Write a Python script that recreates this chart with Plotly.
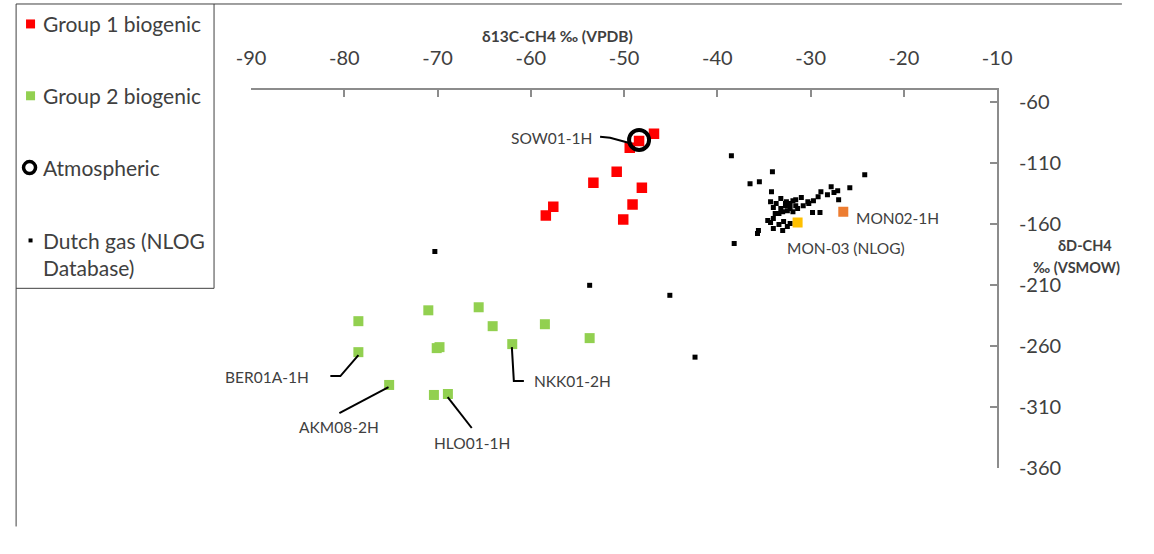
import plotly.graph_objects as go

# figure size (the page adds a default 8px body margin around it)
W, H = 1138, 538
# measured page<->figure mapping of the photograph (page = O + S * figure_px)
SX, OX = 0.971, 16.5
SY, OY = 0.980, 0.0

# ---------------- data ----------------
group1_d13c = [-46.8, -48.4, -49.4, -50.8, -53.3, -48.1, -49.1, -50.1, -57.6, -58.4]
group1_dD = [-86.1, -91.9, -97.6, -117.2, -126.2, -130.3, -144.1, -156.4, -145.8, -153.1]

group2_d13c = [-78.5, -71.0, -65.6, -64.1, -58.5, -53.7, -70.1, -69.8, -78.5, -62.0, -75.2, -70.4, -68.9]
group2_dD = [-239.7, -230.8, -228.3, -243.8, -242.2, -253.6, -261.8, -261.0, -265.1, -258.5, -292.0, -300.2, -299.4]

atm_d13c = [-48.4]
atm_dD = [-91.1]

dutch_d13c = [-38.5, -34.1, -24.2, -36.5, -35.5, -34.2, -25.8, -27.8, -27.1, -27.5,
              -28.2, -28.9, -27.0, -29.2, -29.7, -30.3, -31.0, -30.8, -30.2, -34.3,
              -33.2, -33.7, -31.9, -32.7, -32.2, -32.5, -33.2, -34.0, -33.8, -29.8,
              -29.0, -34.6, -34.0, -34.3, -33.4, -34.0, -33.0, -32.5, -32.2, -32.9,
              -35.6, -35.7, -38.2, -70.3, -53.7, -45.1, -42.4,
              -32.7, -32.2, -31.6, -33.0, -31.9, -31.4, -33.4, -32.6, -31.6]
dutch_dD = [-104.1, -117.2, -119.6, -127.0, -125.4, -133.5, -130.3, -129.4, -132.7, -134.3,
            -136.0, -133.5, -140.1, -137.6, -140.9, -141.7, -138.4, -145.0, -143.3, -141.7,
            -139.2, -143.3, -140.9, -145.0, -147.4, -149.1, -147.4, -146.6, -151.5, -150.7,
            -150.7, -157.2, -155.6, -158.9, -160.5, -163.8, -165.4, -162.1, -159.7, -158.0,
            -165.4, -167.8, -176.0, -182.5, -210.3, -218.5, -269.2,
            -143.3, -143.3, -145.0, -149.9, -149.9, -147.4, -151.5, -141.7, -140.1]

mon02_d13c, mon02_dD = [-26.5], [-149.9]
mon03_d13c, mon03_dD = [-31.4], [-158.9]

x_ticks = [-90, -80, -70, -60, -50, -40, -30, -20, -10]
x_ticktext = ["-90", "-80", "-70", "-60", "-50", "-40", "-30", "-20", "-10"]
y_ticks = [-60, -110, -160, -210, -260, -310, -360]
y_ticktext = ["-60", "-110", "-160", "-210", "-260", "-310", "-360"]

# ---------------- style ----------------
FONT = "Lato"
TXT = "#404040"
AXC = "#8c8c8c"

def px(x):
    return min(0.999, max(0.001, (x - OX) / SX / W))

def py(y):
    return min(0.999, max(0.001, 1 - (y - OY) / SY / H))

fig = go.Figure()

fig.add_trace(go.Scatter(x=dutch_d13c, y=dutch_dD, mode="markers", name="Dutch gas (NLOG Database)",
                         marker=dict(symbol="square", size=5, color="black", line=dict(width=0))))
fig.add_trace(go.Scatter(x=group2_d13c, y=group2_dD, mode="markers", name="Group 2 biogenic",
                         marker=dict(symbol="square", size=10, color="#92D050", line=dict(width=0))))
fig.add_trace(go.Scatter(x=group1_d13c, y=group1_dD, mode="markers", name="Group 1 biogenic",
                         marker=dict(symbol="square", size=10.5, color="#FF0000", line=dict(width=0))))
fig.add_trace(go.Scatter(x=mon02_d13c, y=mon02_dD, mode="markers", name="MON02-1H",
                         marker=dict(symbol="square", size=10, color="#ED7D31", line=dict(width=0))))
fig.add_trace(go.Scatter(x=mon03_d13c, y=mon03_dD, mode="markers", name="MON-03 (NLOG)",
                         marker=dict(symbol="square", size=10, color="#FFC000", line=dict(width=0))))
fig.add_trace(go.Scatter(x=atm_d13c, y=atm_dD, mode="markers", name="Atmospheric",
                         marker=dict(symbol="circle", size=20, color="rgba(0,0,0,0)",
                                     line=dict(width=4, color="black"))))

shapes = []
annotations = []

def line(p0, p1, color="#404040", width=1):
    shapes.append(dict(type="line", xref="paper", yref="paper", x0=px(p0[0]), y0=py(p0[1]),
                       x1=px(p1[0]), y1=py(p1[1]), line=dict(color=color, width=width)))

# outer chart frame (top and left edges) and legend box
line((7, 3), (1154, 3))
line((7, 3), (7, 554))
line((215, 3), (215, 288))
line((7, 288), (215, 288))

# legend symbols
def sq(cx, cy, s, color):
    shapes.append(dict(type="rect", xref="paper", yref="paper", x0=px(cx - s / 2), x1=px(cx + s / 2),
                       y0=py(cy + s / 2), y1=py(cy - s / 2), line=dict(width=0), fillcolor=color))

sq(32, 23, 9, "#FF0000")
sq(32, 95, 9, "#92D050")
sq(32, 240, 4, "black")
shapes.append(dict(type="circle", xref="paper", yref="paper", x0=px(25), x1=px(37), y0=py(173), y1=py(161),
                   line=dict(color="black", width=3.5), fillcolor="rgba(0,0,0,0)"))

def txt(x, y, s, size=20, anchor="left", bold=False):
    annotations.append(dict(xref="paper", yref="paper", x=px(x), y=py(y), text=f"<b>{s}</b>" if bold else s,
                            showarrow=False, xanchor=anchor, yanchor="middle",
                            font=dict(family=FONT, size=size, color=TXT)))

txt(42, 23, "Group 1 biogenic", size=21)
txt(42, 95, "Group 2 biogenic", size=21)
txt(42, 167, "Atmospheric", size=21)
txt(42, 240, "Dutch gas (NLOG", size=21)
txt(42, 267, "Database)", size=21)

# axis titles (kept inside the figure)
txt(558, 35, "δ13C-CH4 ‰ (VPDB)", size=15.5, anchor="center", bold=True)
txt(1084, 245, "δD-CH4", size=14.5, anchor="center", bold=True)
txt(1121, 267, "‰ (VSMOW)", size=14.5, anchor="right", bold=True)

# point labels
txt(552, 137, "SOW01-1H", size=15.5, anchor="center")
txt(853, 218, "MON02-1H", size=15.5, anchor="left")
txt(845, 248, "MON-03 (NLOG)", size=15.5, anchor="center")
txt(268, 377, "BER01A-1H", size=15.5, anchor="center")
txt(340, 427, "AKM08-2H", size=15.5, anchor="center")
txt(472, 443, "HLO01-1H", size=15.5, anchor="center")
txt(532, 381, "NKK01-2H", size=15.5, anchor="left")

# leader lines
def path(pts):
    d = "M " + " L ".join(f"{px(x)},{py(y)}" for x, y in pts)
    shapes.append(dict(type="path", xref="paper", yref="paper", path=d, line=dict(color="black", width=2)))

path([(600, 136), (610, 137), (632, 143)])
path([(331, 376), (341, 376), (359, 355)])
path([(340, 413), (389, 387)])
path([(448, 397), (472, 428)])
path([(512, 347), (514, 381), (524, 381)])

fig.update_layout(
    width=W, height=H,
    margin=dict(l=0, r=0, t=0, b=0),
    paper_bgcolor="white", plot_bgcolor="white",
    showlegend=False,
    shapes=shapes, annotations=annotations,
    xaxis=dict(range=[-90, -10], domain=[px(252), px(996)], side="top",
               tickvals=x_ticks, ticktext=x_ticktext,
               ticks="inside", ticklen=7, tickwidth=1.5, tickcolor=AXC,
               showline=True, linecolor=AXC, linewidth=1.5, showgrid=False, zeroline=False,
               ticklabelstandoff=15,
               tickfont=dict(family=FONT, size=20, color=TXT)),
    yaxis=dict(range=[-360, -50], domain=[py(468), py(89)], side="right",
               tickvals=y_ticks, ticktext=y_ticktext,
               ticks="inside", ticklen=7, tickwidth=1.5, tickcolor=AXC,
               showline=True, linecolor=AXC, linewidth=1.5, showgrid=False, zeroline=False,
               ticklabelstandoff=16,
               tickfont=dict(family=FONT, size=20, color=TXT)),
)

fig.write_html("out.html")
